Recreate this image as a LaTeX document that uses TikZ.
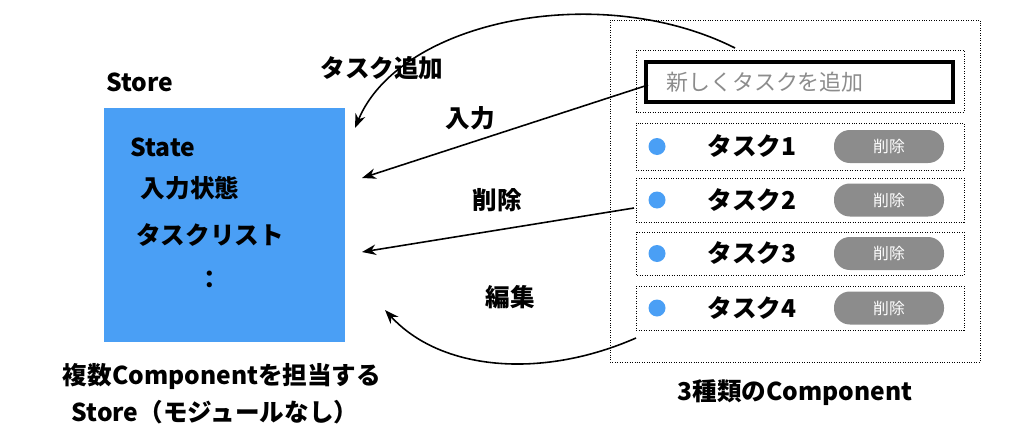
\documentclass[tikz,border=0pt]{standalone}
\usepackage{fontspec}
\setmainfont{Noto Sans CJK JP}
\newfontfamily\jpb{Noto Sans CJK JP}[BoldFont={* Bold}]
\usetikzlibrary{arrows.meta}
\definecolor{sblue}{HTML}{4A9FF5}
\definecolor{bgray}{HTML}{8C8C8C}
\tikzset{
 lbl/.style={font=\fontsize{14}{16}\selectfont\bfseries, inner sep=0pt},
 row/.style={draw, densely dotted, thin},
 btn/.style={fill=bgray, rounded corners=9pt, minimum width=110\pxu, minimum height=33\pxu, text=white, font=\fontsize{9}{10}\selectfont},
 dot/.style={circle, fill=sblue, minimum size=17\pxu, inner sep=0pt},
 arr/.style={-{Stealth[length=8pt,width=6pt]}, line width=0.9pt},
}
\newcommand{\pxu}{*0.02cm}
\begin{document}
\begin{tikzpicture}[x=0.02cm,y=-0.02cm]
\useasboundingbox (0,0) rectangle (1024,436);
\node[lbl] (st) at (140,82) {Store};
\fill[sblue] (104,108) rectangle (345,342);
\node[lbl] (s1) at (163,147) {State};
\node[lbl] (s2) at (190,188) {入力状態};
\node[lbl] (s3) at (210,235) {タスクリスト};
\node[lbl] (s4) at (210,280) {：};
\node[lbl] (c1) at (222,377) {複数Componentを担当する};
\node[lbl] (c2) at (215,412) {Store（モジュールなし）};
\node[lbl] (c3) at (795,393) {3種類のComponent};
\draw[row] (610,20) rectangle (980,362);
\draw[row] (636,50) rectangle (964,112);
\draw[line width=2.5pt] (646,62) rectangle (953,102);
\node[text=bgray, font=\fontsize{12.5}{14}\selectfont, anchor=west] (inp) at (660,82) {新しくタスクを追加};
\foreach \i/\yt/\yb in {1/123/170,2/178/222,3/232/275,4/286/330}{
  \draw[row] (636,\yt) rectangle (964,\yb);
  \node[dot] (d\i) at (657,{(\yt+\yb)/2}) {};
  \node[lbl] (t\i) at (752,{(\yt+\yb)/2}) {タスク\i};
  \node[btn] (b\i) at (889,{(\yt+\yb)/2}) {削除};
}
\coordinate (a1s) at (735,48); \coordinate (a1e) at (355,128);
\draw[arr] (a1s) .. controls (600,-20) and (400,20) .. (a1e);
\node[lbl] (l1) at (382,68) {タスク追加};
\coordinate (a2s) at (648,85); \coordinate (a2e) at (362,178);
\draw[arr] (a2s) -- (a2e);
\node[lbl] (l2) at (470,118) {入力};
\coordinate (a3s) at (634,208); \coordinate (a3e) at (362,252);
\draw[arr] (a3s) -- (a3e);
\node[lbl] (l3) at (497,200) {削除};
\coordinate (a4s) at (636,338); \coordinate (a4e) at (385,310);
\draw[arr] (a4s) .. controls (540,380) and (440,370) .. (a4e);
\node[lbl] (l4) at (510,297) {編集};
\end{tikzpicture}
\end{document}
